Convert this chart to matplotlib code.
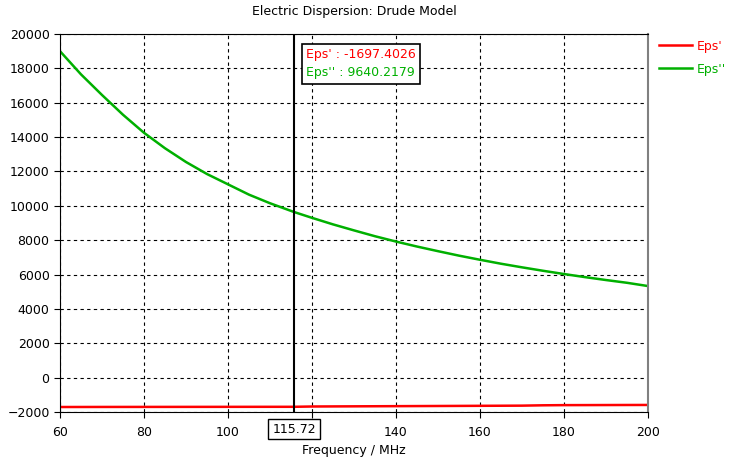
import numpy as np
import matplotlib.pyplot as plt

freq = [60, 65, 70, 75, 80, 85, 90, 95, 100, 105, 110, 115.72, 120, 125, 130, 135,
        140, 145, 150, 155, 160, 165, 170, 175, 180, 185, 190, 195, 200]
eps_im = [19000, 17650, 16450, 15300, 14250, 13350, 12550, 11850, 11250, 10650,
          10150, 9640, 9300, 8920, 8570, 8230, 7920, 7630, 7360, 7100, 6860, 6630,
          6420, 6220, 6030, 5850, 5680, 5520, 5330]
eps_re = [-1710, -1708, -1706, -1705, -1704, -1703, -1702, -1701, -1700, -1699,
          -1698, -1697.4, -1680, -1675, -1670, -1665, -1660, -1655, -1650, -1645,
          -1640, -1635, -1630, -1610, -1600, -1598, -1595, -1592, -1590]
cursor_f = 115.72
cursor_re = -1697.4026
cursor_im = 9640.2179

red = '#ff0000'
green = '#00b000'

fig = plt.figure(figsize=(7.36, 4.70), dpi=100)
ax = fig.add_axes([60 / 736, 1 - 412 / 470, 588 / 736, 378 / 470])

ax.plot(freq, eps_re, color=red, lw=1.8, label="Eps'")
ax.plot(freq, eps_im, color=green, lw=1.8, label="Eps''")
ax.axvline(cursor_f, color='black', lw=1.5)

ax.set_xlim(60, 200)
ax.set_ylim(-2000, 20000)
ax.set_xticks(np.arange(60, 201, 20))
ax.set_yticks(np.arange(-2000, 20001, 2000))
ax.set_xticklabels(['60', '80', '100', '', '140', '160', '180', '200'])
ax.grid(True, ls=(0, (3, 3)), color='black', lw=0.8)
ax.tick_params(labelsize=9, length=4, color='black')
ax.tick_params(axis='x', pad=6)
for s in ['top', 'left', 'bottom']:
    ax.spines[s].set_color('black')
ax.spines['right'].set_color('#808080')
ax.spines['right'].set_linewidth(1.5)

ax.set_title('Electric Dispersion: Drude Model', fontsize=9, pad=14)
ax.set_xlabel('Frequency / MHz', fontsize=9, labelpad=4)

# boxed cursor value on x axis
ax.text(cursor_f, -2000, f'{cursor_f:.2f}', transform=ax.transData,
        ha='center', va='center', fontsize=9,
        bbox=dict(boxstyle='square,pad=0.3', fc='white', ec='black', lw=1))
ax.texts[-1].set_position((cursor_f, -3000))

# readout box
ax.text(0.419, 0.963, f"Eps' : {cursor_re:.4f}\n", transform=ax.transAxes,
        ha='left', va='top', fontsize=9, color=red, linespacing=1.55,
        bbox=dict(boxstyle='square,pad=0.35', fc='white', ec='black', lw=1.2))
ax.text(0.419, 0.963, f"\nEps'' : {cursor_im:.4f}", transform=ax.transAxes,
        ha='left', va='top', fontsize=9, color=green, linespacing=1.55)

leg = ax.legend(loc='upper left', bbox_to_anchor=(1.0, 1.015), frameon=False,
                fontsize=9, handlelength=2.6, labelspacing=0.8, handletextpad=0.4)
for t, c in zip(leg.get_texts(), [red, green]):
    t.set_color(c)

fig.savefig('out.png', dpi=100)
